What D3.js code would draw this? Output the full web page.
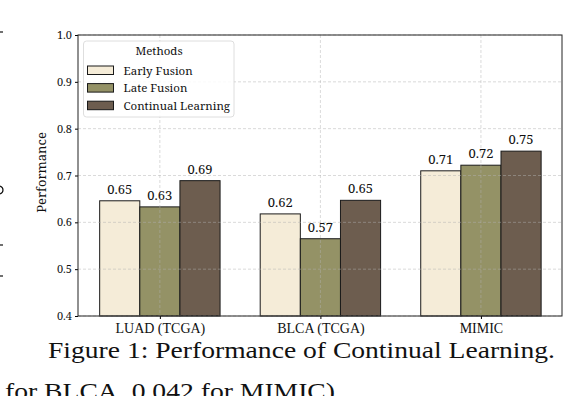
<!DOCTYPE html>
<html>
<head>
<meta charset="utf-8">
<script src="https://cdn.jsdelivr.net/npm/d3@7"></script>
<style>
  html, body { margin: 0; padding: 0; background: #fff; overflow: hidden; }
  svg { display: block; }
</style>
</head>
<body>
<div id="chart"></div>
<script>
// data
const datasets = ["LUAD (TCGA)", "BLCA (TCGA)", "MIMIC"];
const methods = ["Early Fusion", "Late Fusion", "Continual Learning"];
const earlyFusion = [0.646, 0.618, 0.710];
const lateFusion = [0.633, 0.565, 0.722];
const continualLearning = [0.689, 0.647, 0.752];
const barLabels = [["0.65", "0.63", "0.69"], ["0.62", "0.57", "0.65"], ["0.71", "0.72", "0.75"]];
const yTicks = [0.4, 0.5, 0.6, 0.7, 0.8, 0.9, 1.0];
const methodColors = ["#f5ecd8", "#949266", "#6d5d4f"];

const width = 564, height = 396;
const svg = d3.select("#chart").append("svg")
    .attr("width", width)
    .attr("height", height);

const plotLeft = 78, plotRight = 562, plotTop = 35, plotBottom = 316;

const x = d3.scaleLinear().domain([-0.51, 2.505]).range([plotLeft, plotRight]);
const y = d3.scaleLinear().domain([0.4, 1.0]).range([plotBottom, plotTop]);
const barW = 0.25;

const series = [earlyFusion, lateFusion, continualLearning];
const bars = [];
datasets.forEach((name, i) => {
    series.forEach((s, j) => {
        bars.push({ i, j, value: s[i], label: barLabels[i][j] });
    });
});

const serif = "'Noto Serif', serif";
const times = "'Liberation Serif', 'Times New Roman', serif";

// bars
svg.append("g").selectAll("rect").data(bars).enter().append("rect")
    .attr("x", d => x(d.i + (d.j - 1) * barW - barW / 2))
    .attr("width", x(barW) - x(0))
    .attr("y", d => y(d.value))
    .attr("height", d => y(0.4) - y(d.value))
    .attr("fill", d => methodColors[d.j])
    .attr("stroke", "#1a1a1a")
    .attr("stroke-width", 1);

// grid (drawn over the bars, faint)
const grid = svg.append("g")
    .attr("stroke", "#b0b0b0")
    .attr("stroke-opacity", 0.6)
    .attr("stroke-width", 0.8)
    .attr("stroke-dasharray", "3,2");
grid.selectAll("line.h").data(yTicks).enter().append("line")
    .attr("x1", plotLeft).attr("x2", plotRight)
    .attr("y1", d => y(d)).attr("y2", d => y(d));
grid.selectAll("line.v").data(datasets).enter().append("line")
    .attr("x1", (d, i) => x(i)).attr("x2", (d, i) => x(i))
    .attr("y1", plotTop).attr("y2", plotBottom);

// value labels
svg.append("g").selectAll("text").data(bars).enter().append("text")
    .attr("x", d => x(d.i + (d.j - 1) * barW))
    .attr("y", d => y(d.value) - 7)
    .attr("text-anchor", "middle")
    .style("font-family", serif)
    .style("font-size", "13px")
    .attr("fill", "#111")
    .text(d => d.label);

// axes
const yAxis = svg.append("g")
    .attr("transform", `translate(${plotLeft},0)`)
    .call(d3.axisLeft(y).tickValues(yTicks).tickFormat(d3.format(".1f")).tickSize(3).tickPadding(3));
yAxis.select(".domain").remove();
yAxis.selectAll("text").style("font-family", serif).style("font-size", "11px").attr("fill", "#111");

const xAxis = svg.append("g")
    .attr("transform", `translate(0,${plotBottom})`)
    .call(d3.axisBottom(x).tickValues([0, 1, 2]).tickFormat((d) => datasets[d]).tickSize(3).tickPadding(4));
xAxis.select(".domain").remove();
xAxis.selectAll("text").style("font-family", times).style("font-size", "14px").attr("fill", "#111");

// frame
svg.append("rect")
    .attr("x", plotLeft).attr("y", plotTop)
    .attr("width", plotRight - plotLeft).attr("height", plotBottom - plotTop)
    .attr("fill", "none")
    .attr("stroke", "#222")
    .attr("stroke-width", 1);

// y label
svg.append("text")
    .attr("transform", `translate(46,${(plotTop + plotBottom) / 2 - 3}) rotate(-90)`)
    .attr("text-anchor", "middle")
    .style("font-family", serif)
    .style("font-size", "13px")
    .attr("fill", "#111")
    .text("Performance");

// legend
const lg = svg.append("g").attr("transform", "translate(83.5,41)");
lg.append("rect")
    .attr("width", 150.5).attr("height", 76)
    .attr("rx", 3)
    .attr("fill", "#fff").attr("fill-opacity", 0.85)
    .attr("stroke", "#d6d6d6").attr("stroke-width", 0.8);
lg.append("text")
    .attr("x", 75.5).attr("y", 14)
    .attr("text-anchor", "middle")
    .style("font-family", serif).style("font-size", "11.5px")
    .attr("fill", "#111")
    .text("Methods");
const items = lg.selectAll("g.item").data(methods).enter().append("g")
    .attr("transform", (d, i) => `translate(4,${25 + i * 17.6})`);
items.append("rect")
    .attr("width", 26).attr("height", 8.5)
    .attr("fill", (d, i) => methodColors[i])
    .attr("stroke", "#1a1a1a").attr("stroke-width", 1);
items.append("text")
    .attr("x", 36).attr("y", 8.5)
    .style("font-family", serif).style("font-size", "11.5px")
    .attr("fill", "#111")
    .text(d => d);

// caption and surrounding page text
svg.append("text")
    .attr("x", 48).attr("y", 358)
    .attr("textLength", 507).attr("lengthAdjust", "spacingAndGlyphs")
    .style("font-family", times).style("font-size", "23px")
    .attr("fill", "#111")
    .text("Figure 1: Performance of Continual Learning.");
svg.append("text")
    .attr("x", 5).attr("y", 399)
    .attr("textLength", 330).attr("lengthAdjust", "spacingAndGlyphs")
    .style("font-family", times).style("font-size", "23px")
    .attr("fill", "#111")
    .text("for BLCA, 0.042 for MIMIC)");

// fragments of the neighbouring column at the left edge
const frags = svg.append("g").attr("stroke", "#111").attr("stroke-width", 1.2).attr("fill", "none");
[32, 245, 276].forEach(v => frags.append("line").attr("x1", 0).attr("x2", 3).attr("y1", v).attr("y2", v));
frags.append("path").attr("d", "M0,186 Q3,187 3,190 Q3,193 0,194");
</script>
</body>
</html>
